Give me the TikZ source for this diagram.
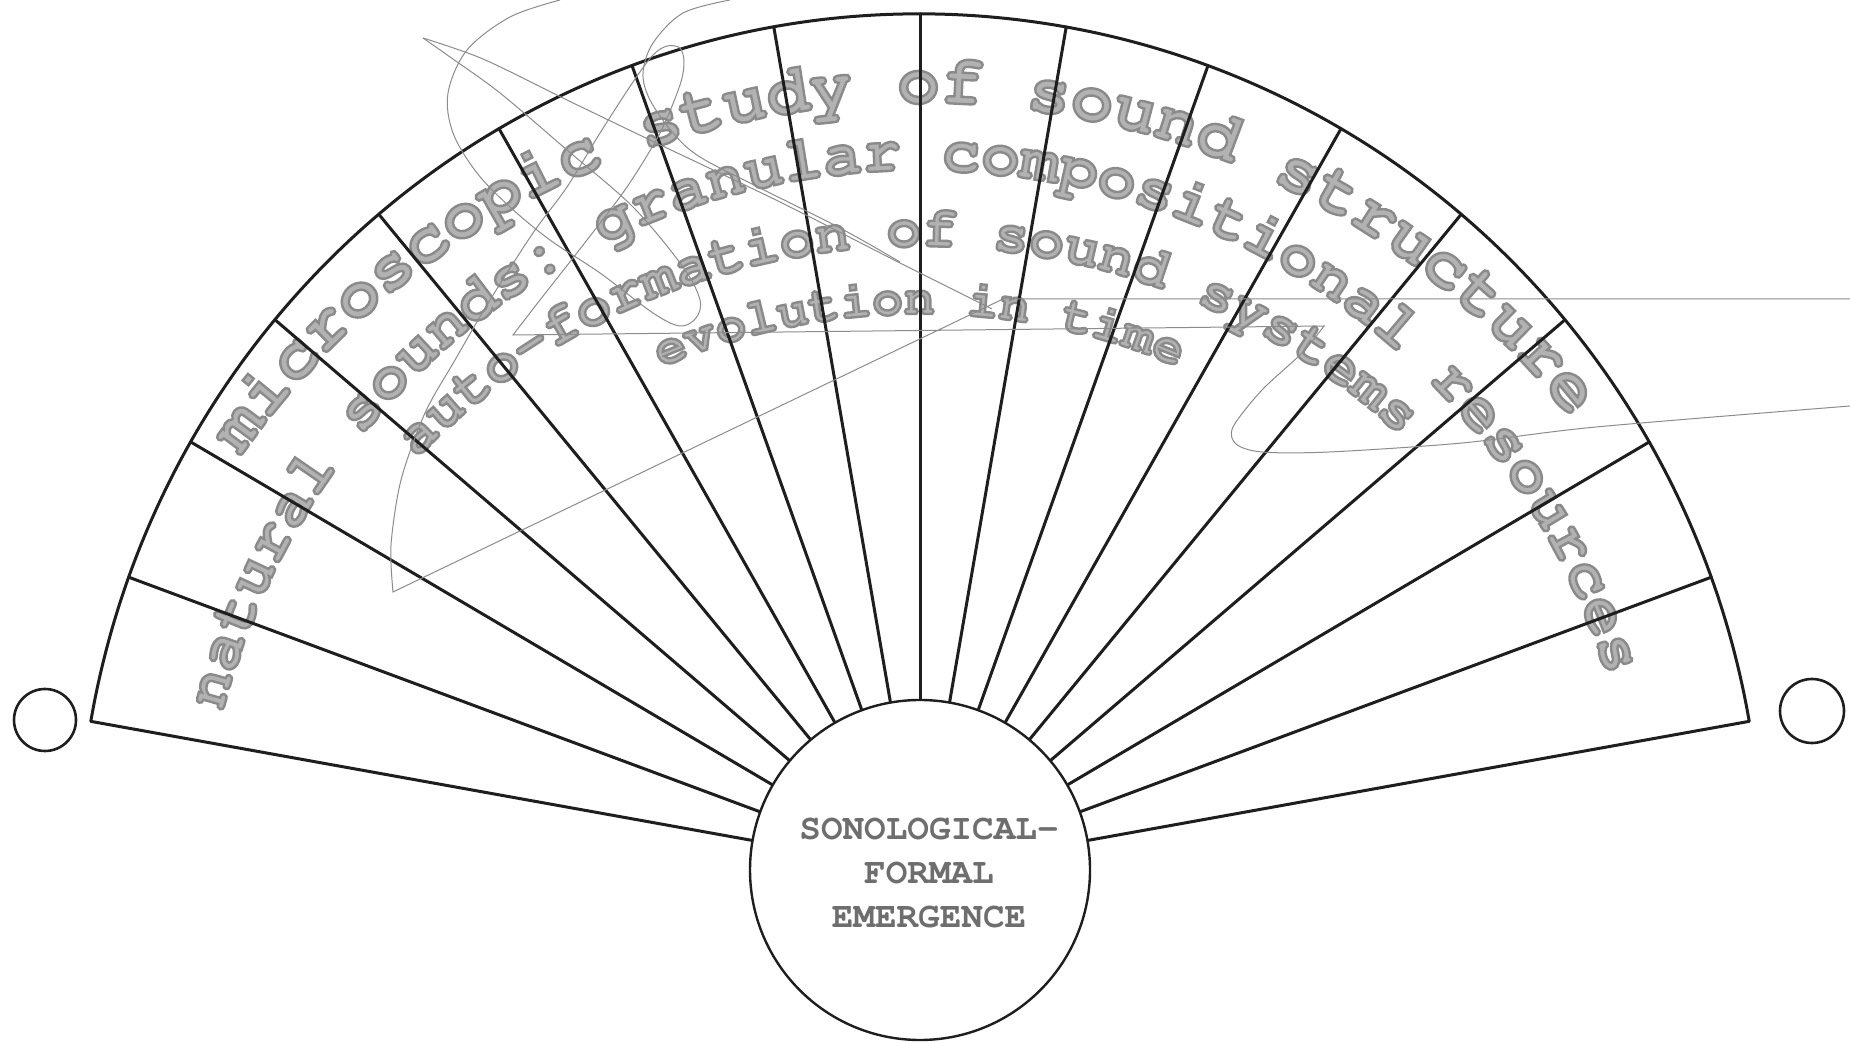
\documentclass[tikz,border=0pt]{standalone}
\usepackage[T1,TU]{fontenc}
\usetikzlibrary{decorations.text,calc}
\definecolor{inkc}{HTML}{1E1E1E}
\definecolor{scrib}{HTML}{8C8C8C}
\definecolor{arctxt}{HTML}{B2B2B2}
\definecolor{hubtxt}{HTML}{6E6E6E}
\newcommand\OutlineOn{\special{pdf:literal direct 2 Tr 2.4 w 0.54 G}}
\newcommand\OutlineOff{\special{pdf:literal direct 0 Tr}}
\newcommand\CrFont[1]{\fontencoding{T1}\fontfamily{pcr}\fontseries{b}\fontsize{#1}{#1}\selectfont\OutlineOn}
\newcommand\ArcFontA{\CrFont{71.4}}
\newcommand\ArcFontB{\CrFont{64.7}}
\newcommand\ArcFontC{\CrFont{58.6}}
\newcommand\ArcFontD{\CrFont{52.1}}
\newcommand\HubFont{\OutlineOff\fontencoding{T1}\fontfamily{pcr}\fontseries{b}\fontsize{36}{44}\selectfont}
\begin{document}
\begin{tikzpicture}[x=1pt,y=1pt,
  ink/.style={draw=inkc, line width=3pt},
  scribble/.style={draw=scrib, line width=1pt},
  ring/.style={circle, draw=inkc, line width=2.6pt, inner sep=0pt},
  ray/.style={draw=inkc, line width=3pt, line cap=round},
  arctext/.style={decorate, decoration={text along path, text color=arctxt, text align=left}}
]
\useasboundingbox (0,0) rectangle (1850,1042);
\fill[white] (0,0) rectangle (1850,1042);
\coordinate (C) at (920,172);
\coordinate (CA) at (920,110);
\coordinate (CB) at (920,152);
\coordinate (CC) at (920,92);
\coordinate (CD) at (920,72);

% curved texts
\begin{scope}
\path[arctext, decoration={text={|\ArcFontA|microscopic study of sound structure}}]
  ($(CA)+(144.9:829)$) arc[start angle=144.9, end angle=20, radius=829];
\path[arctext, decoration={text={|\ArcFontB|natural sounds: granular compositional resources}}]
  ($(CB)+(165.65:719.5)$) arc[start angle=165.65, end angle=5, radius=719.5];
\path[arctext, decoration={text={|\ArcFontC|auto-formation of sound systems}}]
  ($(CC)+(135.67:703.7)$) arc[start angle=135.67, end angle=30, radius=703.7];
\path[arctext, decoration={text={|\ArcFontD|evolution in time}}]
  ($(CD)+(113.27:656)$) arc[start angle=113.27, end angle=50, radius=656];
\end{scope}

% hub
\node[ring, minimum size=340pt, line width=2.4pt] (hub) at (C) {};
\node[text=hubtxt, align=center, font=\HubFont, inner sep=0pt] (hubtxt) at (929,169) {SONOLOGICAL-\\FORMAL\\EMERGENCE};

% rays and outer arc
\foreach \a in {10,20,...,170} {
  \coordinate (o\a) at ($(C)+(\a:842 and 856)$);
  \draw[ray] (hub.\a) -- (o\a);
}
\draw[ink] (o170) arc[start angle=170, end angle=10, x radius=842, y radius=856];

% small rings
\node[ring, minimum size=62pt] (lring) at (45,322) {};
\node[ring, minimum size=64pt] (rring) at (1812,331) {};

% thin stray strokes (image coordinates)
\begin{scope}[shift={(0,1042)}, yscale=-1]
\draw[scribble] plot[smooth, tension=0.55] coordinates {(560,0) (510,17) (467,50) (448,93) (453,133) (477,173) (510,207) (550,240) (600,273) (653,313) (680,326) (696,318) (700,300) (683,267) (633,207) (567,150) (500,93) (450,57) (423,38)};
\draw[scribble] plot[smooth, tension=0.5] coordinates {(423,38) (483,59) (567,100) (650,140) (780,202) (900,263) (992,309)};
\draw[scribble] plot[smooth, tension=0.55] coordinates {(730,0) (683,13) (653,43) (643,73) (650,100) (673,133) (700,157) (760,188) (840,228) (900,262)};
\draw[scribble] (1850,299) -- (1003,299) -- (393,592) -- plot[smooth, tension=0.5] coordinates {(393,592) (391,545) (401,480) (425,413) (455,360) (490,300) (533,233) (567,187) (600,133) (633,82) (653,55) (667,46) (680,48) (684,62) (680,85) (660,133) (627,187) (587,240) (540,300) (513,335)} -- (1324,326) -- plot[smooth, tension=0.5] coordinates {(1324,326) (1302,353) (1262,390) (1233,427) (1236,444) (1262,452) (1329,452) (1462,443) (1596,427) (1850,406)};
\end{scope}
\end{tikzpicture}
\end{document}
